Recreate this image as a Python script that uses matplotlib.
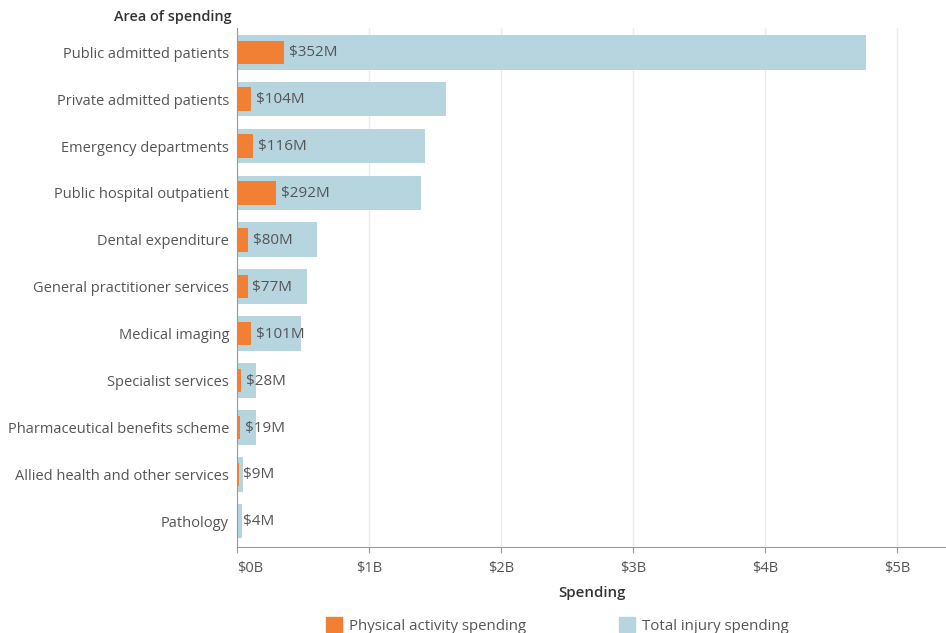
import matplotlib.pyplot as plt
import numpy as np

plt.rcParams['font.family'] = ['Open Sans', 'DejaVu Sans']

areas = ['Public admitted patients', 'Private admitted patients', 'Emergency departments',
         'Public hospital outpatient', 'Dental expenditure', 'General practitioner services',
         'Medical imaging', 'Specialist services', 'Pharmaceutical benefits scheme',
         'Allied health and other services', 'Pathology']
# spending in $ billions
total_injury = [4.76, 1.58, 1.42, 1.39, 0.60, 0.53, 0.48, 0.14, 0.14, 0.042, 0.034]
physical_activity = [0.352, 0.104, 0.116, 0.292, 0.080, 0.077, 0.101, 0.028, 0.019, 0.009, 0.004]
ticks = [0, 1, 2, 3, 4, 5]
tick_labels = ['$0B', '$1B', '$2B', '$3B', '$4B', '$5B']

orange = '#f28034'
blue = '#b6d5de'
grey = '#555555'

fig = plt.figure(figsize=(9.46, 6.33), dpi=100)
ax = fig.add_axes([0.251, 0.136, 0.749, 0.82])

y = np.arange(len(areas))
ax.barh(y, total_injury, height=0.74, color=blue, zorder=2)
ax.barh(y, physical_activity, height=0.5, color=orange, zorder=3)

for yi, v in zip(y, physical_activity):
    ax.annotate(f'${v * 1000:.0f}M', (v, yi), xytext=(3.5, -0.5), textcoords='offset points',
                va='center', ha='left', fontsize=11, color=grey, zorder=4)

ax.set_ylim(len(areas) - 0.45, -0.52)
ax.set_xlim(0, 5.37)
ax.set_yticks(y)
ax.set_yticklabels(areas, fontsize=10.55, color=grey)
ax.set_xticks(ticks)
ax.set_xticklabels(tick_labels, fontsize=10.5, color=grey)
# first tick label sits to the right of the axis line
ax.get_xticklabels()[0].set_horizontalalignment('left')
ax.tick_params(axis='y', length=0, pad=6)
ax.tick_params(axis='x', length=4, color='#999999', pad=6)
ax.grid(axis='x', color='#ebebeb', linewidth=1, zorder=0)
for s in ['top', 'right']:
    ax.spines[s].set_visible(False)
for s in ['left', 'bottom']:
    ax.spines[s].set_color('#999999')

ax.set_xlabel('Spending', fontsize=10.8, color='#333333', fontweight='semibold', labelpad=7)
fig.text(0.245, 0.973, 'Area of spending', ha='right', va='center',
         fontsize=10.4, color='#333333', fontweight='semibold')

# legend drawn along the bottom
handles = [plt.Rectangle((0, 0), 1, 1, color=orange), plt.Rectangle((0, 0), 1, 1, color=blue)]
fig.legend(handles, ['Physical activity spending', 'Total injury spending'],
           loc='center', bbox_to_anchor=(0.589, 0.012), ncol=2, frameon=False,
           fontsize=10.8, labelcolor=grey, handlelength=1.1, handleheight=1.2,
           columnspacing=6.2, handletextpad=0.45)

fig.savefig('out.png', dpi=100)
